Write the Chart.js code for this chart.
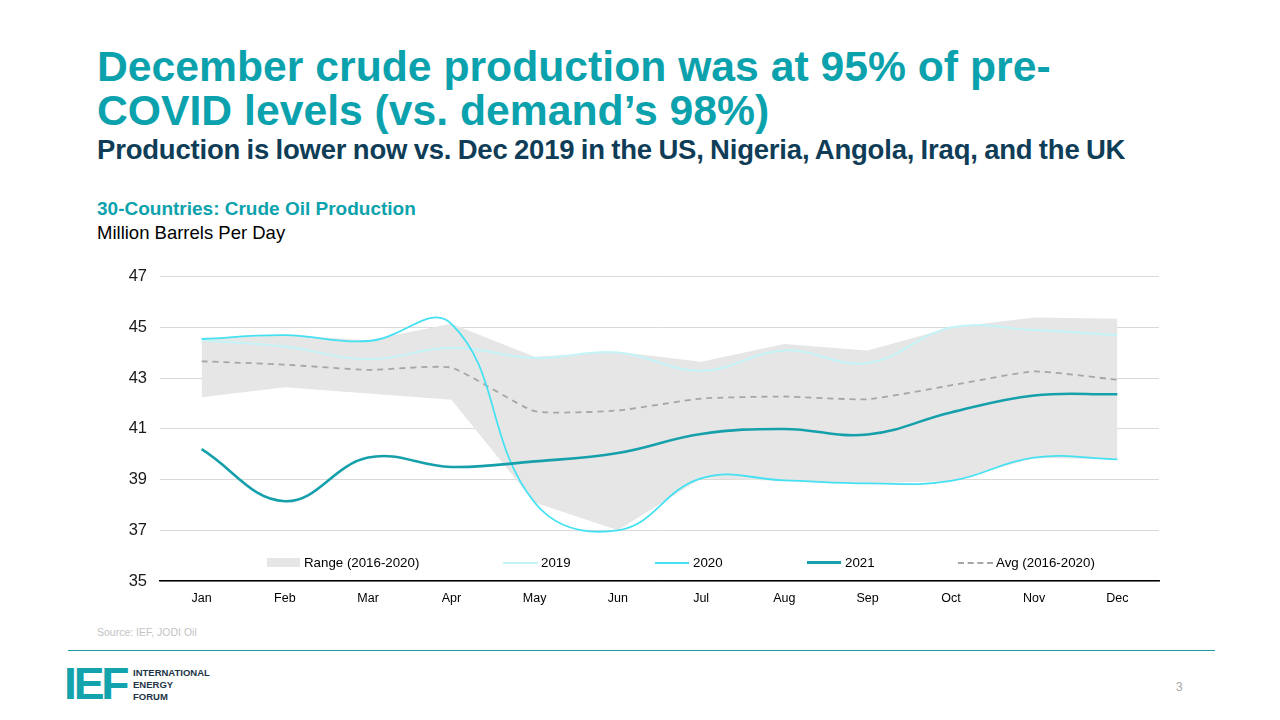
<!DOCTYPE html>
<html>
<head>
<meta charset="utf-8">
<script src="https://cdn.jsdelivr.net/npm/chart.js@4.4.1/dist/chart.umd.min.js"></script>
<style>
  html, body { margin: 0; padding: 0; background: #fff; }
  body { width: 1280px; height: 720px; position: relative; overflow: hidden; font-family: "Liberation Sans", Arial, sans-serif; }
  .abs { position: absolute; white-space: nowrap; }
  #title { left: 97px; top: 45px; font-size: 42.7px; line-height: 43.5px; font-weight: bold; color: #0ba2ad; }
  #subtitle { left: 97px; top: 136px; font-size: 27.5px; line-height: 27px; font-weight: bold; color: #0f3d57; letter-spacing: -0.2px; word-spacing: -1px; }
  #chartTitle { left: 97px; top: 198px; font-size: 19px; line-height: 22px; font-weight: bold; color: #0ba2ad; }
  #chartUnit { left: 97px; top: 222px; font-size: 18.5px; line-height: 22px; color: #000; }
  #chartBox { left: 100px; top: 254px; width: 1070px; height: 352px; }
  .leg { position: absolute; top: 555px; height: 15px; font-size: 13.3px; line-height: 15px; color: #000; white-space: nowrap; }
  .sw { position: absolute; top: 0; }
  #source { left: 97px; top: 626px; font-size: 10.5px; color: #c3c3c3; }
  #rule { left: 68px; top: 650px; width: 1147px; height: 0; border-top: 1.3px solid #1a9ba5; }
  #logo { left: 64px; top: 662px; font-size: 44px; line-height: 44px; font-weight: 900; color: #13a3ad; letter-spacing: -3px; transform: scaleX(1.05); transform-origin: left; }
  #logoText { left: 133px; top: 667px; font-size: 9.5px; line-height: 12px; font-weight: bold; color: #1d3547; }
  #page { left: 1176px; top: 680px; font-size: 12px; color: #a6a6a6; }
</style>
</head>
<body>
<div id="title" class="abs">December crude production was at 95% of pre-<br>COVID levels (vs. demand’s 98%)</div>
<div id="subtitle" class="abs">Production is lower now vs. Dec 2019 in the US, Nigeria, Angola, Iraq, and the UK</div>
<div id="chartTitle" class="abs">30-Countries: Crude Oil Production</div>
<div id="chartUnit" class="abs">Million Barrels Per Day</div>

<div id="chartBox" class="abs"><canvas id="chart" width="1070" height="352"></canvas></div>

<div class="leg" style="left:267px;"><span class="sw" style="left:0;top:3px;width:33px;height:9px;background:#e6e6e6;"></span><span style="position:absolute;left:37px;">Range (2016-2020)</span></div>
<div class="leg" style="left:503px;"><span class="sw" style="left:0;top:7px;width:35px;height:2px;background:#c4f4f8;"></span><span style="position:absolute;left:38px;">2019</span></div>
<div class="leg" style="left:655px;"><span class="sw" style="left:0;top:7px;width:34px;height:2px;background:#44e1f2;"></span><span style="position:absolute;left:38px;">2020</span></div>
<div class="leg" style="left:807px;"><span class="sw" style="left:0;top:6px;width:34px;height:3px;background:#16a0ab;"></span><span style="position:absolute;left:38px;">2021</span></div>
<div class="leg" style="left:958px;"><span class="sw" style="left:0;top:7px;width:35px;height:0;border-top:2px dashed #a6a6a6;"></span><span style="position:absolute;left:38px;">Avg (2016-2020)</span></div>

<div id="source" class="abs">Source: IEF, JODI Oil</div>
<div id="rule" class="abs"></div>
<div id="logo" class="abs">IEF</div>
<div id="logoText" class="abs">INTERNATIONAL<br>ENERGY<br>FORUM</div>
<div id="page" class="abs">3</div>

<script>
window.onload = drawChart;

var months = ["Jan", "Feb", "Mar", "Apr", "May", "Jun", "Jul", "Aug", "Sep", "Oct", "Nov", "Dec"];
var rangeHigh = [44.55, 44.7, 44.5, 45.15, 43.85, 44.05, 43.65, 44.35, 44.1, 45.0, 45.4, 45.35];
var rangeLow = [42.25, 42.65, 42.4, 42.15, 38.1, 37.0, 39.05, 38.95, 38.85, 38.95, 39.85, 39.8];
var prod2019 = [44.5, 44.25, 43.75, 44.2, 43.8, 44.02, 43.3, 44.1, 43.6, 45.0, 44.9, 44.7];
var prod2020 = [44.55, 44.7, 44.47, 45.15, 38.1, 37.0, 39.05, 38.97, 38.85, 38.95, 39.87, 39.8];
var prod2021 = [40.2, 38.15, 39.87, 39.5, 39.72, 40.05, 40.8, 41.0, 40.78, 41.65, 42.32, 42.37];
var avg1620 = [43.67, 43.54, 43.33, 43.42, 41.7, 41.73, 42.2, 42.28, 42.17, 42.72, 43.27, 42.94];
var yTicks = [35, 37, 39, 41, 43, 45, 47];

function lineSet(label, data, color, width, dash, tension) {
  return {
    label: label,
    data: data,
    borderColor: color,
    borderWidth: width,
    borderDash: dash || [],
    pointRadius: 0,
    tension: tension,
    fill: false
  };
}

function drawChart() {
  var ctx = document.getElementById("chart");
  new Chart(ctx, {
    type: "line",
    data: {
      labels: months,
      datasets: [
        lineSet("2021", prod2021, "#16a0ab", 2.6, null, 0.4),
        lineSet("2020", prod2020, "#44e1f2", 1.8, null, 0.42),
        lineSet("2019", prod2019, "#c4f4f8", 2, null, 0.4),
        lineSet("Avg (2016-2020)", avg1620, "#a6a6a6", 1.8, [6, 5], 0.15),
        {
          label: "Range (2016-2020)",
          data: rangeHigh,
          borderWidth: 0,
          borderColor: "rgba(0,0,0,0)",
          backgroundColor: "#e6e6e6",
          pointRadius: 0,
          tension: 0,
          fill: "+1"
        },
        {
          label: "rangeLow",
          data: rangeLow,
          borderWidth: 0,
          borderColor: "rgba(0,0,0,0)",
          pointRadius: 0,
          tension: 0,
          fill: false
        }
      ]
    },
    options: {
      responsive: false,
      animation: false,
      layout: { padding: { top: 0, right: 11, left: 0, bottom: 0 } },
      plugins: { legend: { display: false }, tooltip: { enabled: false } },
      scales: {
        x: {
          offset: true,
          grid: { display: false, drawTicks: false },
          border: { display: true, color: "#000", width: 1.5 },
          ticks: { color: "#000", font: { family: "Liberation Sans", size: 12.5 }, padding: 10, maxRotation: 0 },
          afterFit: function (s) { s.height = 25; }
        },
        y: {
          min: 35,
          max: 47,
          afterBuildTicks: function (s) { s.ticks = yTicks.map(function (v) { return { value: v }; }); },
          grid: { color: "#d9d9d9", drawTicks: false, lineWidth: 1 },
          border: { display: false },
          ticks: { color: "#1a1a1a", font: { family: "Liberation Sans", size: 16.5 }, padding: 13 },
          afterFit: function (s) { s.width = 60; }
        }
      }
    }
  });
}
</script>
</body>
</html>
